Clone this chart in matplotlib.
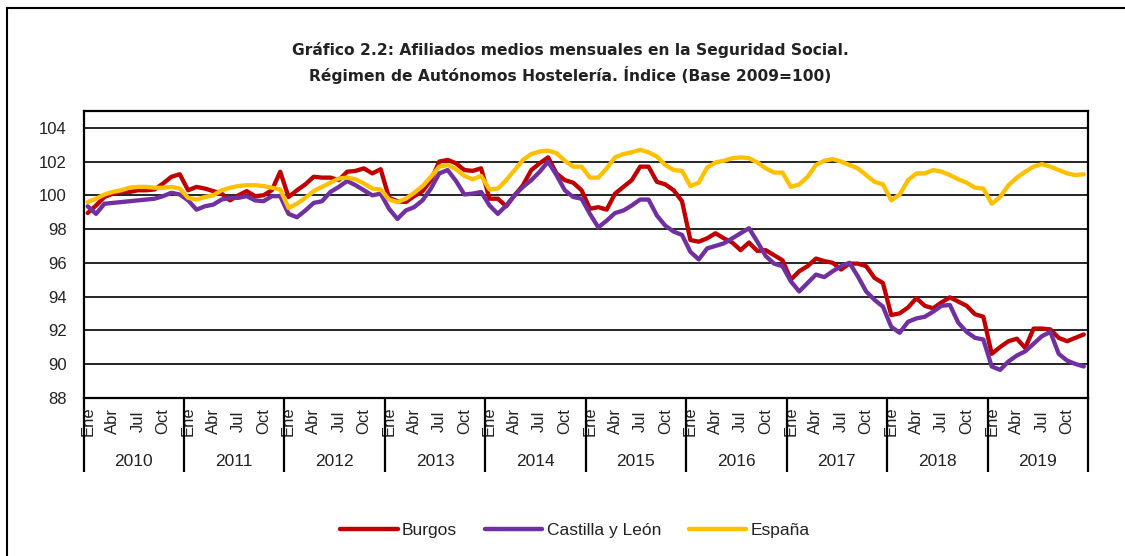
import matplotlib
matplotlib.use("Agg")
import matplotlib.pyplot as plt
from matplotlib.lines import Line2D
from matplotlib.patches import Rectangle
import matplotlib.transforms as mtransforms

years = ["2010", "2011", "2012", "2013", "2014", "2015", "2016", "2017", "2018", "2019"]
month_labels = ["Ene", "Abr", "Jul", "Oct"]

burgos = [
    98.95, 99.4, 99.9, 100.1, 100.2, 100.2, 100.3, 100.3, 100.35, 100.7, 101.1, 101.25,
    100.3, 100.5, 100.4, 100.25, 100.1, 99.7, 100.0, 100.25, 99.95, 100.0, 100.3, 101.4,
    99.9, 100.3, 100.65, 101.1, 101.05, 101.05, 100.9, 101.4, 101.45, 101.6, 101.3, 101.55,
    99.85, 99.65, 99.6, 99.95, 100.25, 100.9, 102.0, 102.1, 101.9, 101.5, 101.45, 101.6,
    99.8, 99.8, 99.35, 100.0, 100.6, 101.5, 101.9, 102.25, 101.3, 100.9, 100.75, 100.3,
    99.2, 99.3, 99.15, 100.1, 100.5, 100.9, 101.7, 101.7, 100.8, 100.65, 100.3, 99.65,
    97.35, 97.25, 97.45, 97.75, 97.45, 97.2, 96.75, 97.2, 96.7, 96.75, 96.45, 96.15,
    95.0, 95.5, 95.8, 96.25, 96.1, 96.0, 95.6, 95.95, 95.95, 95.8, 95.1, 94.8,
    92.9, 93.0, 93.35, 93.9, 93.45, 93.3, 93.65, 93.95, 93.7, 93.45, 92.95, 92.8,
    90.6, 91.0, 91.35, 91.5, 90.95, 92.1, 92.1, 92.05, 91.55, 91.35, 91.55, 91.75,
]

castilla_leon = [
    99.35, 98.9, 99.5, 99.55, 99.6, 99.65, 99.7, 99.75, 99.8, 99.95, 100.15, 100.05,
    99.7, 99.15, 99.35, 99.45, 99.75, 99.85, 99.85, 99.95, 99.7, 99.65, 99.95, 99.95,
    98.9, 98.7, 99.1, 99.55, 99.65, 100.2, 100.5, 100.85, 100.6, 100.3, 100.0, 100.1,
    99.2, 98.6, 99.1, 99.3, 99.7, 100.4, 101.3, 101.5, 100.85, 100.05, 100.1, 100.2,
    99.4, 98.9, 99.4, 100.0, 100.5, 100.9, 101.4, 102.0, 101.2, 100.3, 99.9, 99.8,
    98.9, 98.1, 98.5, 98.95, 99.1, 99.4, 99.75, 99.75, 98.8, 98.2, 97.85, 97.65,
    96.65, 96.2, 96.85, 97.0, 97.15, 97.45, 97.75, 98.05, 97.25, 96.4, 95.95, 95.8,
    94.9, 94.3, 94.8, 95.3, 95.15, 95.5, 95.8, 96.0, 95.2, 94.3, 93.8, 93.4,
    92.2, 91.85, 92.5, 92.7, 92.8, 93.1, 93.45, 93.5, 92.45, 91.9, 91.55, 91.45,
    89.85, 89.65, 90.15, 90.5, 90.75, 91.2, 91.65, 91.9, 90.6, 90.2, 90.0, 89.85,
]

espana = [
    99.6, 99.8, 100.05, 100.2, 100.3, 100.45, 100.5, 100.5, 100.45, 100.45, 100.5, 100.4,
    99.85, 99.75, 99.9, 100.0, 100.3, 100.45, 100.55, 100.6, 100.6, 100.55, 100.45, 100.35,
    99.25, 99.5, 99.85, 100.25, 100.5, 100.75, 101.0, 101.05, 100.95, 100.7, 100.4, 100.35,
    99.75, 99.6, 99.8, 100.15, 100.55, 101.1, 101.7, 101.8, 101.55, 101.15, 100.95, 101.15,
    100.35, 100.4, 100.9, 101.5, 102.1, 102.45, 102.6, 102.65, 102.5, 102.05, 101.7, 101.7,
    101.05, 101.05, 101.6, 102.25, 102.45, 102.55, 102.7, 102.55, 102.3, 101.8, 101.5, 101.45,
    100.55, 100.75, 101.65, 101.95, 102.05, 102.2, 102.25, 102.2, 101.95, 101.6, 101.35, 101.35,
    100.5, 100.65, 101.1, 101.8, 102.05, 102.15, 102.0, 101.8, 101.6, 101.2, 100.8, 100.65,
    99.7, 100.05, 100.9, 101.3, 101.3, 101.5, 101.4, 101.2, 100.95, 100.75, 100.45, 100.4,
    99.5, 99.9, 100.6, 101.05, 101.4, 101.7, 101.85, 101.7, 101.5, 101.3, 101.2, 101.25,
]

series = [
    ("Burgos", burgos, "#C00000"),
    ("Castilla y León", castilla_leon, "#7030A0"),
    ("España", espana, "#FFC000"),
]

W, H = 1125, 556
fig = plt.figure(figsize=(W / 100, H / 100), dpi=100)
fig.patch.set_facecolor("white")

# outer frame of the chart object (right and bottom edges fall outside the image)
fig.add_artist(Rectangle((7 / W, -0.1), 1.2, 1 - 8 / H + 0.1, transform=fig.transFigure,
                         fill=False, edgecolor="black", lw=1.5))

left, right = 83.5 / W, 1088 / W
bottom, top = 1 - 397.7 / H, 1 - 111 / H
ax = fig.add_axes([left, bottom, right - left, top - bottom])

n = len(burgos)
x = list(range(n))
for name, vals, col in series:
    ax.plot(x, vals, color=col, lw=3.1, solid_joinstyle="round", solid_capstyle="round",
            label=name, zorder=3)

ax.set_xlim(-0.5, n - 0.5)
ax.set_ylim(88, 105)
ax.set_yticks(range(88, 105, 2))
ax.yaxis.grid(True, color="black", lw=1.2, zorder=1)
ax.set_axisbelow(True)
for s in ax.spines.values():
    s.set_color("black")
    s.set_linewidth(1.6)

tick_font = ["Liberation Sans Narrow", "Liberation Sans", "DejaVu Sans"]
ax.tick_params(axis="y", length=0, pad=12, labelsize=12, labelcolor="#222222")
for lab in ax.get_yticklabels():
    lab.set_family(tick_font)

# month labels every quarter
pos = []
labs = []
for yi in range(len(years)):
    for k, m in enumerate(month_labels):
        pos.append(yi * 12 + k * 3)
        labs.append(m)
ax.set_xticks(pos)
ax.set_xticklabels(labs, rotation=90, va="center", ha="center", fontsize=12,
                   family=tick_font, color="#222222")
ax.tick_params(axis="x", length=0, pad=17)

# year group labels and dividers
trans = mtransforms.blended_transform_factory(ax.transData, ax.transAxes)
ax_h = (top - bottom) * H
for yi, yr in enumerate(years):
    ax.text(yi * 12 + 5.5, -(462 - 397.7) / ax_h, yr, transform=trans, ha="center",
            va="center", fontsize=12.5, family=tick_font, color="#222222")
for yi in range(len(years) + 1):
    ax.plot([yi * 12 - 0.5] * 2, [0, -(472 - 397.7) / ax_h], transform=trans,
            color="black", lw=1.6, clip_on=False, solid_capstyle="butt")

fig.text(570 / W, 1 - 50 / H,
         "Gráfico 2.2: Afiliados medios mensuales en la Seguridad Social.",
         ha="center", va="center", fontsize=11.2, fontweight="bold", color="#222222")
fig.text(570 / W, 1 - 75 / H,
         "Régimen de Autónomos Hostelería. Índice (Base 2009=100)",
         ha="center", va="center", fontsize=11.2, fontweight="bold", color="#222222")

handles = [Line2D([], [], color=c, lw=3.2, solid_capstyle="round") for _, _, c in series]
leg = fig.legend(handles, [s[0] for s in series], loc="center",
                 bbox_to_anchor=(575 / W, 1 - 530 / H), ncol=3, frameon=False,
                 handlelength=3.3, handletextpad=0.25, columnspacing=1.6,
                 prop={"family": ["Liberation Sans", "DejaVu Sans"], "size": 12.5})
for t in leg.get_texts():
    t.set_color("#222222")

fig.savefig("out.png", dpi=100)
